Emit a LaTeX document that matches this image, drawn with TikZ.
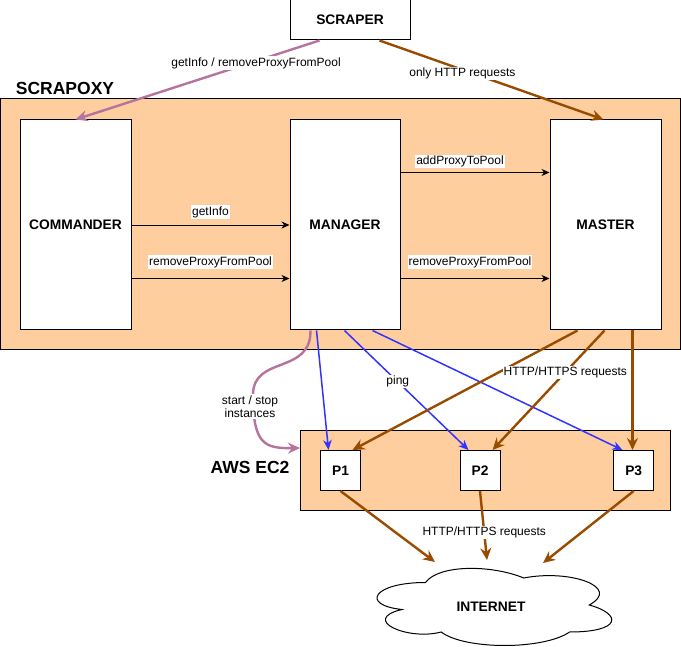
\documentclass[tikz,border=0pt]{standalone}
\usepackage{fontspec}
\setmainfont{Liberation Sans}
\usetikzlibrary{arrows.meta,calc}
\definecolor{peach}{HTML}{FFCE9F}
\definecolor{plum}{HTML}{B5739D}
\definecolor{brownish}{HTML}{994C00}
\definecolor{blueln}{HTML}{3333FF}
\begin{document}
\begin{tikzpicture}[x=1pt,y=-1pt,
  box/.style={draw=black,line width=1pt,fill=white,inner sep=0pt,font=\fontsize{13.8}{16}\selectfont\bfseries},
  group/.style={draw=black,line width=1pt,fill=peach,inner sep=0pt},
  lbl/.style={fill=white,inner sep=1pt,font=\fontsize{12}{13.5}\selectfont,text=black},
  title/.style={font=\fontsize{17.5}{20}\selectfont\bfseries},
  blackarr/.style={draw=black,line width=0.9pt,-{Stealth[length=8pt,width=7pt,inset=2.5pt]}},
  bluearr/.style={draw=blueln,line width=1.5pt,-{Stealth[length=10pt,width=8.5pt,inset=3pt]}},
  brownarr/.style={draw=brownish,line width=2.4pt,-{Stealth[length=12pt,width=11pt,inset=4pt]}},
  plumarr/.style={draw=plum,line width=2.4pt,-{Stealth[length=12pt,width=11pt,inset=4pt]}},
  cloudline/.style={draw=black,line width=1pt,fill=white}
]
\useasboundingbox (0,0) rectangle (681,647);
% groups
\node[group,minimum width=680pt,minimum height=251pt] (scrapoxy) at (340.5,224.5) {};
\node[group,minimum width=370pt,minimum height=80pt] (ec2) at (485.5,470.5) {};
\node[title] (scrapoxylbl) at (65,88) {SCRAPOXY};
\node[title] (ec2lbl) at (250,467) {AWS EC2};
% boxes
\node[box,minimum width=120pt,minimum height=40pt] (scraper) at (350,20) {SCRAPER};
\node[box,minimum width=111pt,minimum height=210pt] (cmd) at (75.5,225) {COMMANDER};
\node[box,minimum width=110pt,minimum height=210pt] (mgr) at (345,225) {MANAGER};
\node[box,minimum width=111pt,minimum height=210pt] (mst) at (605.5,225) {MASTER};
\node[box,minimum width=40pt,minimum height=40pt] (p1) at (340.5,470.5) {P1};
\node[box,minimum width=40pt,minimum height=40pt] (p2) at (480,470.5) {P2};
\node[box,minimum width=40pt,minimum height=40pt] (p3) at (633.7,470.5) {P3};
% cloud
\path[cloudline] (425.5,582.5)
  .. controls (373.1,582.5) and (360,605) .. (401.9,609.5)
  .. controls (360,619.4) and (407.2,641) .. (441.2,632)
  .. controls (464.8,650) and (543.4,650) .. (569.6,632)
  .. controls (622,632) and (622,614) .. (589.25,605)
  .. controls (622,587) and (569.6,569) .. (523.75,578)
  .. controls (491,564.5) and (438.6,564.5) .. (425.5,582.5) -- cycle;
\node[box,draw=none,fill=none] (internet) at (491,607) {INTERNET};
\coordinate (in1) at (435,562);
\coordinate (in2) at (487,560);
\coordinate (in3) at (543,563);
% scraper arrows
\draw[plumarr] ($(scraper.south west)+(30,0)$) -- node[lbl,pos=0.26,yshift=-2pt] {getInfo / removeProxyFromPool} ($(cmd.north west)+(56,0)$);
\draw[brownarr] ($(scraper.south west)+(90,0)$) -- node[lbl,pos=0.37,yshift=-4pt] {only HTTP requests} ($(mst.north west)+(54,0)$);
% commander -> manager
\draw[blackarr] (cmd.east) -- (mgr.west);
\node[lbl] (l1) at (210.5,212) {getInfo};
\draw[blackarr] ($(cmd.south east)+(0,-52)$) -- ($(mgr.south west)+(0,-52)$);
\node[lbl] (l2) at (210.5,262) {removeProxyFromPool};
% manager -> master
\draw[blackarr] ($(mgr.north east)+(0,53)$) -- ($(mst.north west)+(0,53)$);
\node[lbl] (l3) at (460,161.5) {addProxyToPool};
\draw[blackarr] ($(mgr.south east)+(0,-52)$) -- ($(mst.south west)+(0,-52)$);
\node[lbl] (l4) at (470,262) {removeProxyFromPool};
% start / stop
\draw[plumarr] ($(mgr.south west)+(21,0)$) .. controls (311,375) and (253,355) .. (253,395)
  .. controls (253,445) and (265,448.5) .. ($(ec2.north west)+(0,18)$);
\node[lbl,align=center] (l5) at (250,406.5) {start / stop\\instances};
% blue ping arrows
\draw[bluearr] ($(mgr.south west)+(27,0)$) -- ($(p1.north west)+(8.5,0)$);
\draw[bluearr] ($(mgr.south west)+(55,0)$) -- node[lbl,pos=0.43,fill=none] (ping) {} ($(p2.north west)+(9,0)$);
\node[lbl] at (ping) {ping};
\draw[bluearr] ($(mgr.south west)+(83,0)$) -- ($(p3.north west)+(9.3,0)$);
% brown master arrows
\draw[brownarr] ($(mst.south west)+(28,0)$) -- ($(p1.north east)+(-8.5,0)$);
\draw[brownarr] ($(mst.south west)+(55,0)$) -- node[lbl,pos=0.35] {HTTP/HTTPS requests} ($(p2.north east)+(-8,0)$);
\draw[brownarr] ($(mst.south west)+(83,0)$) -- ($(p3.north west)+(19.3,0)$);
% to internet
\draw[brownarr] (p1.south) -- (in1);
\draw[brownarr] (p2.south) -- node[lbl,pos=0.6] {HTTP/HTTPS requests} (in2);
\draw[brownarr] (p3.south) -- (in3);
\end{tikzpicture}
\end{document}
